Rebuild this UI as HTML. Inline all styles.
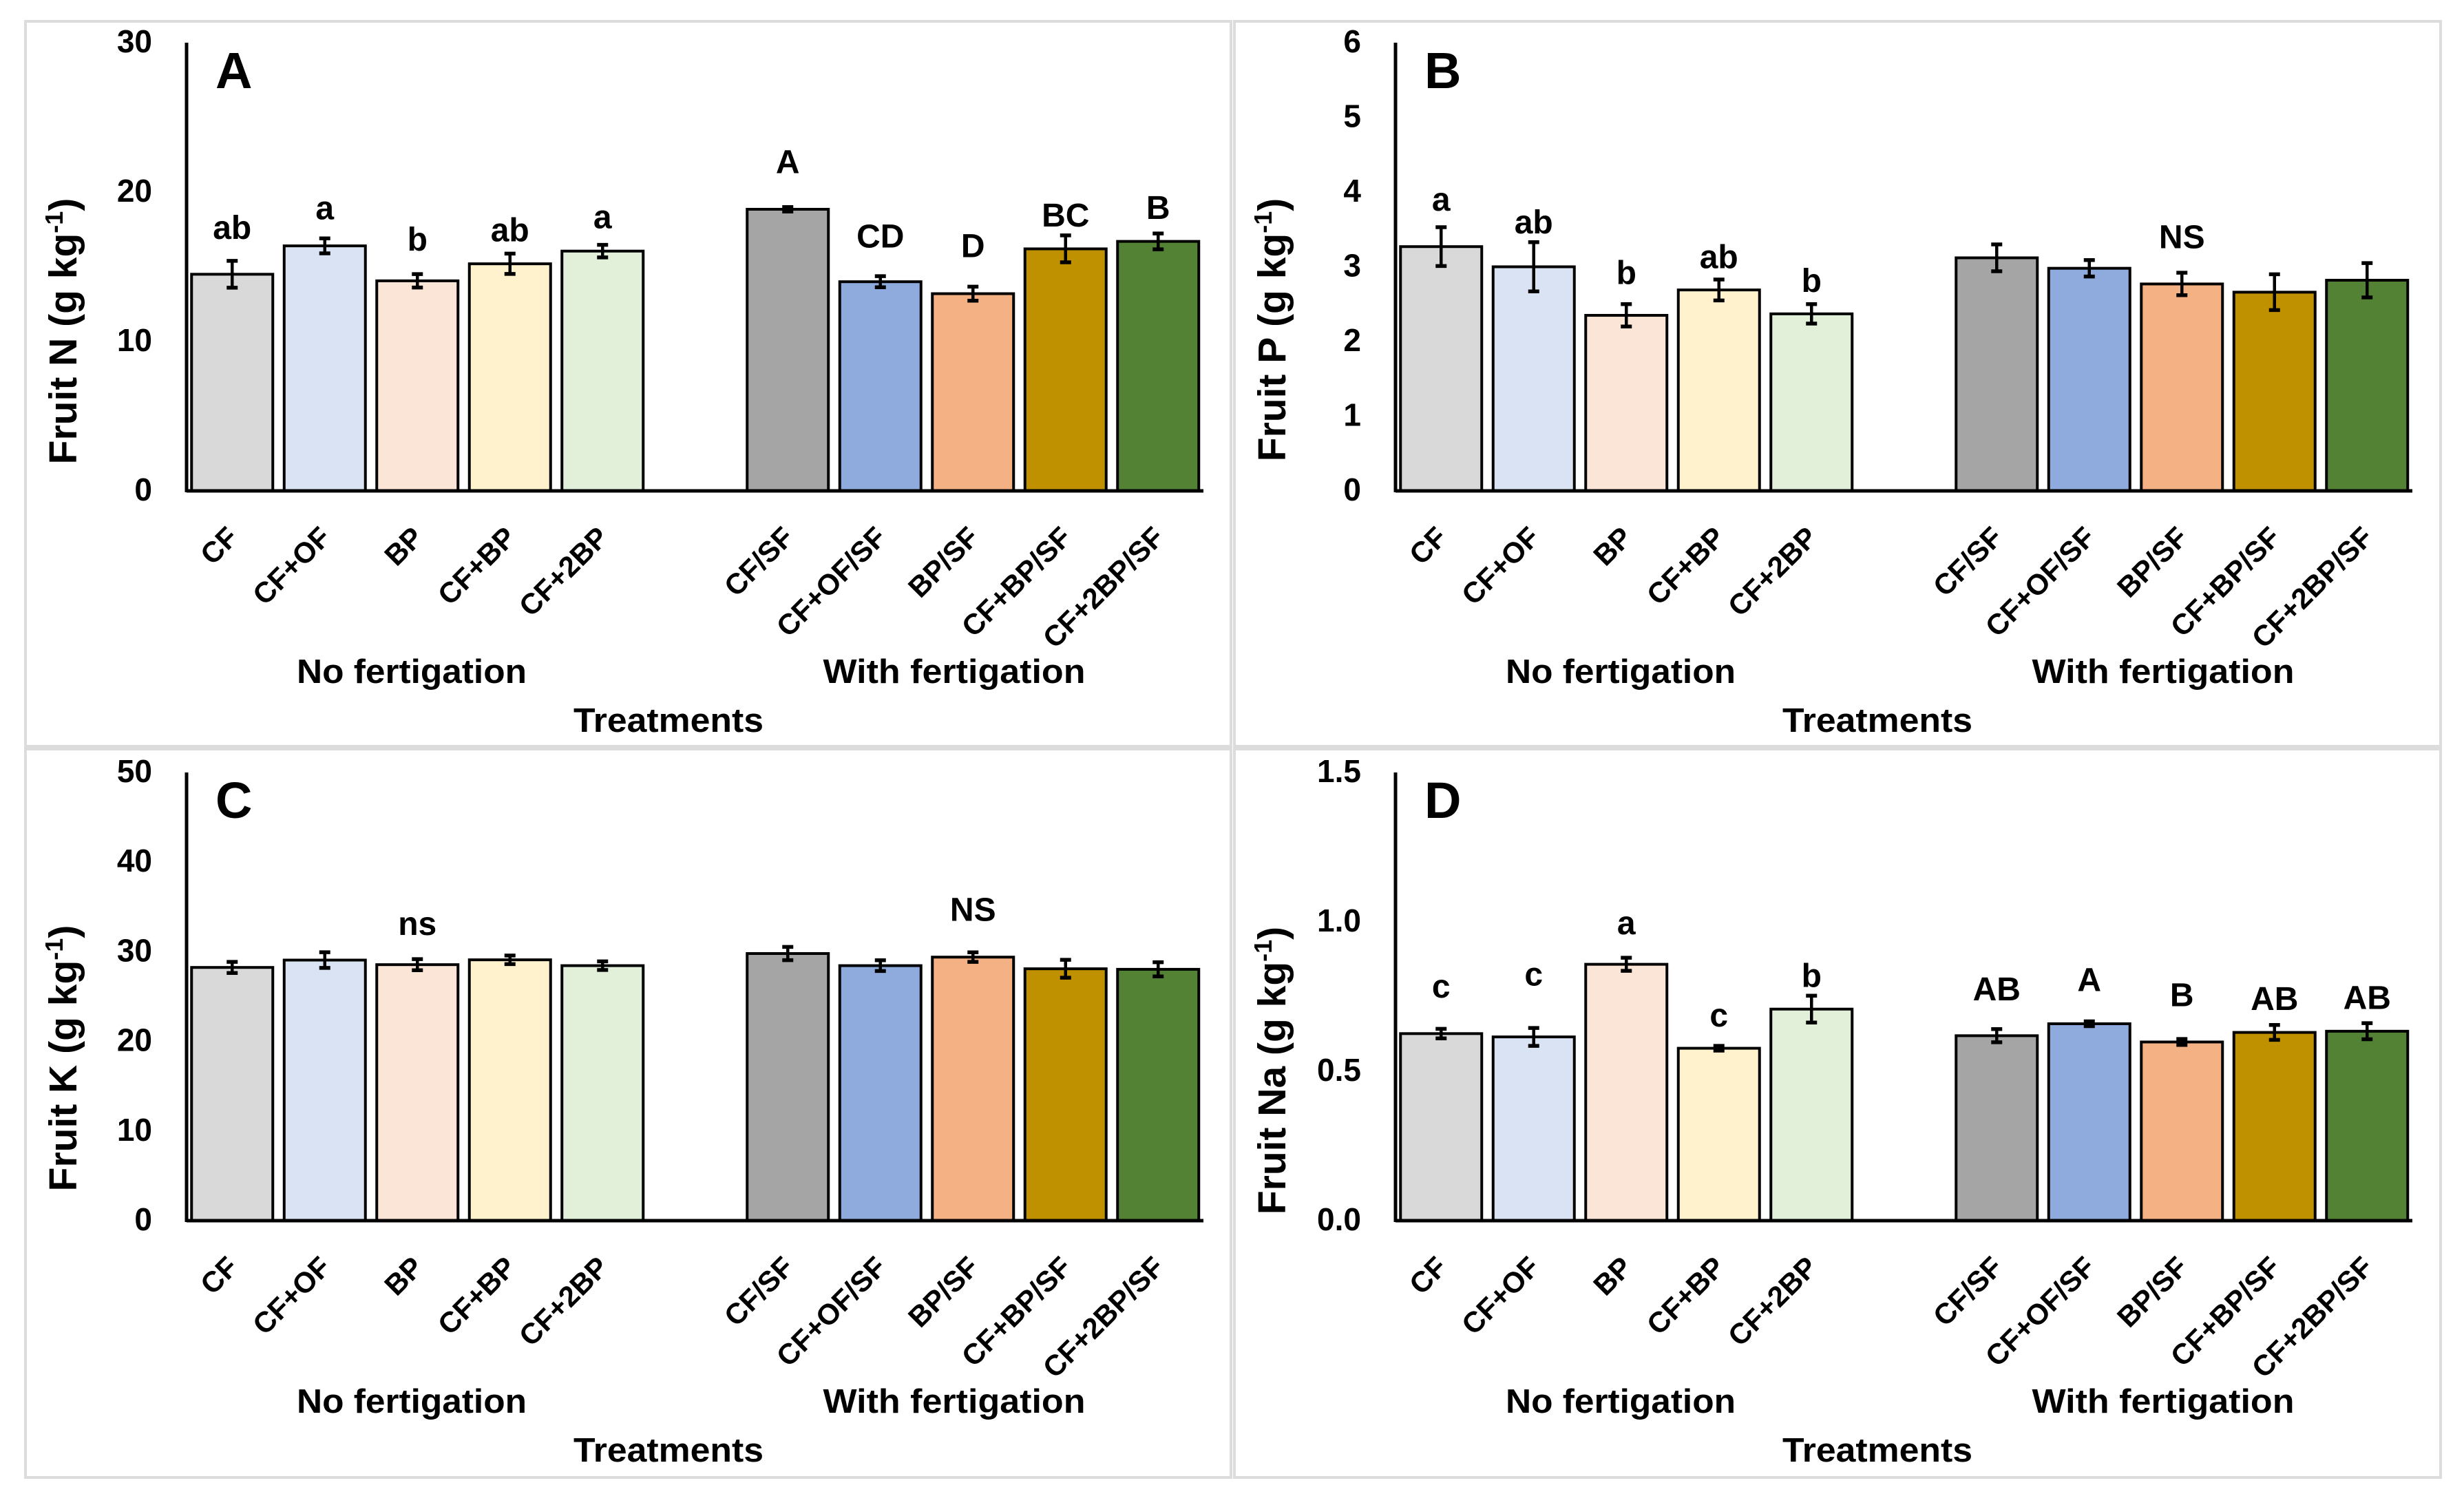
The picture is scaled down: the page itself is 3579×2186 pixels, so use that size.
<!DOCTYPE html>
<html lang="en">
<head>
<meta charset="utf-8">
<title>Fruit nutrient concentrations by treatment</title>
<style>
html,body{margin:0;padding:0;background:#fff;}
svg{display:block;}
text{font-family:"Liberation Sans",sans-serif;font-weight:700;fill:#000;}
</style>
</head>
<body>
<svg id="figure" xmlns="http://www.w3.org/2000/svg" width="3579" height="2186" viewBox="0 0 3579 2186"></svg>
<script>
// ---------- chart data ----------
const categories = ["CF","CF+OF","BP","CF+BP","CF+2BP",null,"CF/SF","CF+OF/SF","BP/SF","CF+BP/SF","CF+2BP/SF"];
const barColors = ["#d9d9d9","#dae3f3","#fbe5d6","#fff2cc","#e2f0d9",null,"#a5a5a5","#8faadc","#f4b183","#bf9000","#548235"];

const ticksA = [0,10,20,30];
const valuesA = [14.5,16.4,14.06,15.2,16.05,null,18.85,14.0,13.2,16.2,16.7];
const errorsA = [0.9,0.5,0.45,0.68,0.42,null,0.15,0.37,0.47,0.9,0.53];
const lettersA = ["ab","a","b","ab","a",null,"A","CD","D","BC","B"];
const liftA = [1.47,1.29,1.57,0.83,1.1,null,2.26,1.93,1.98,0.6,0.97];

const ticksB = [0,1,2,3,4,5,6];
const valuesB = [3.27,3.0,2.35,2.69,2.37,null,3.12,2.98,2.77,2.66,2.82];
const errorsB = [0.26,0.33,0.15,0.14,0.13,null,0.18,0.11,0.15,0.24,0.23];
const lettersB = ["a","ab","b","ab","b",null,"","","NS","",""];
const liftB = [0.22,0.115,0.27,0.15,0.165,null,0,0,0.33,0,0];

const ticksC = [0,10,20,30,40,50];
const valuesC = [28.25,29.07,28.56,29.1,28.45,null,29.8,28.45,29.4,28.1,28.04];
const errorsC = [0.62,0.87,0.62,0.48,0.48,null,0.74,0.6,0.53,1.0,0.79];
const lettersC = ["","","ns","","",null,"","","NS","",""];
const liftC = [0,0,2.7,0,0,null,0,0,3.5,0,0];

const ticksD = [0,0.5,1.0,1.5];
const valuesD = [0.626,0.615,0.858,0.577,0.708,null,0.619,0.659,0.598,0.63,0.634];
const errorsD = [0.016,0.03,0.022,0.008,0.045,null,0.022,0.008,0.01,0.025,0.027];
const lettersD = ["c","c","a","c","b",null,"AB","A","B","AB","AB"];
const liftD = [0.105,0.142,0.079,0.065,0.029,null,0.096,0.101,0.11,0.05,0.047];

// ---------- layout ----------
const NS = "http://www.w3.org/2000/svg";
const root = document.getElementById("figure");
const PLOT_H = 651, AXIS_X = 271, AXIS_TOP = 62, BAND = 134.5, BAR_W = 118;

function mk(parent, tag, props, txt) {
  const el = document.createElementNS(NS, tag);
  for (const k in props) el.setAttribute(k, props[k]);
  if (txt !== undefined) el.textContent = txt;
  parent.appendChild(el);
  return el;
}

function drawPanel(p) {
  const g = mk(root, "g", {transform: "translate(" + p.dx + "," + p.dy + ")"});
  
  

  const maxV = p.ticks[p.ticks.length - 1];
  const yScale = v => AXIS_TOP + PLOT_H - (v / maxV) * PLOT_H;
  const xScale = i => AXIS_X - 1 + BAND * (i + 0.5);
  const base = yScale(0);

  // frame
  const frame = mk(root, "rect", {x: p.fx, y: p.fy, width: p.fw, height: p.fh, fill: "none", stroke: "#dcdcdc", "stroke-width": 4});
  
  

  // bars, error bars, letters, category labels
  categories.forEach((cat, i) => {
    if (cat === null) return;
    const cx = xScale(i), v = p.values[i], e = p.errors[i];

    const bar = mk(g, "rect", {x: cx - BAR_W / 2, y: yScale(v), width: BAR_W, height: base - yScale(v), fill: barColors[i], stroke: "#000", "stroke-width": 4});
    
    

    const eg = mk(g, "g", {stroke: "#000", "stroke-width": 4.5, fill: "none"});
    
    
    mk(eg, "line", {x1: cx, x2: cx, y1: yScale(v + e), y2: yScale(v - e)});
    mk(eg, "line", {x1: cx - 8, x2: cx + 8, y1: yScale(v + e), y2: yScale(v + e), "stroke-width": 5.5});
    mk(eg, "line", {x1: cx - 8, x2: cx + 8, y1: yScale(v - e), y2: yScale(v - e), "stroke-width": 5.5});

    if (p.letters[i]) {
      const t = mk(g, "text", {x: cx, y: yScale(v + e + p.lift[i]), "text-anchor": "middle", "font-size": 48}, p.letters[i]);
      
      
    }

    const lx = cx + 11, ly = 783;
    const lab = mk(g, "text", {x: lx, y: ly, "text-anchor": "end", "font-size": 42, transform: "rotate(-45 " + lx + " " + ly + ")"}, cat);
    
    
  });

  // axes
  const yAxis = mk(g, "line", {x1: AXIS_X, x2: AXIS_X, y1: AXIS_TOP, y2: base + 2, stroke: "#000", "stroke-width": 5});
  
  
  const xAxis = mk(g, "line", {x1: AXIS_X, x2: 1748, y1: base, y2: base, stroke: "#000", "stroke-width": 5});
  
  

  // y ticks
  p.ticks.forEach(t => {
    const lbl = mk(g, "text", {x: AXIS_X - 50, y: yScale(t) + 14, "text-anchor": "end", "font-size": 46}, t.toFixed(p.decimals));
    
    
  });

  // y title
  const tx = AXIS_X - 160, ty = p.titleY;
  const title = mk(g, "text", {x: tx, y: ty, "text-anchor": "middle", "font-size": 57, transform: "rotate(-90 " + tx + " " + ty + ")"});
  
  
  mk(title, "tspan", {}, p.title + " (g kg");
  mk(title, "tspan", {"baseline-shift": "super", "font-size": 36}, "-1");
  mk(title, "tspan", {}, ")");

  // panel letter
  const pl = mk(g, "text", {x: AXIS_X + 42, y: 128, "font-size": 74}, p.id);
  
  

  // group + axis titles
  const g1 = mk(g, "text", {x: 598, y: 992, "text-anchor": "middle", "font-size": 49, textLength: 334, lengthAdjust: "spacingAndGlyphs"}, "No fertigation");
  
  
  const g2 = mk(g, "text", {x: 1386, y: 992, "text-anchor": "middle", "font-size": 49, textLength: 381, lengthAdjust: "spacingAndGlyphs"}, "With fertigation");
  
  
  const xt = mk(g, "text", {x: 971, y: 1063, "text-anchor": "middle", "font-size": 49, textLength: 276, lengthAdjust: "spacingAndGlyphs"}, "Treatments");
  
  
}

const bg = mk(root, "rect", {x: 0, y: 0, width: 3579, height: 2186, fill: "#fff"});



drawPanel({id: "A", dx: 0, dy: 0, fx: 37, fy: 31, fw: 1751, fh: 1053, ticks: ticksA, decimals: 0, values: valuesA, errors: errorsA, letters: lettersA, lift: liftA, title: "Fruit N", titleY: 481});
drawPanel({id: "B", dx: 1756, dy: 0, fx: 1793, fy: 31, fw: 1752, fh: 1053, ticks: ticksB, decimals: 0, values: valuesB, errors: errorsB, letters: lettersB, lift: liftB, title: "Fruit P", titleY: 479});
drawPanel({id: "C", dx: 0, dy: 1060, fx: 37, fy: 1088, fw: 1751, fh: 1058, ticks: ticksC, decimals: 0, values: valuesC, errors: errorsC, letters: lettersC, lift: liftC, title: "Fruit K", titleY: 477});
drawPanel({id: "D", dx: 1756, dy: 1060, fx: 1793, fy: 1088, fw: 1752, fh: 1058, ticks: ticksD, decimals: 1, values: valuesD, errors: errorsD, letters: lettersD, lift: liftD, title: "Fruit Na", titleY: 495});
</script>
</body>
</html>
